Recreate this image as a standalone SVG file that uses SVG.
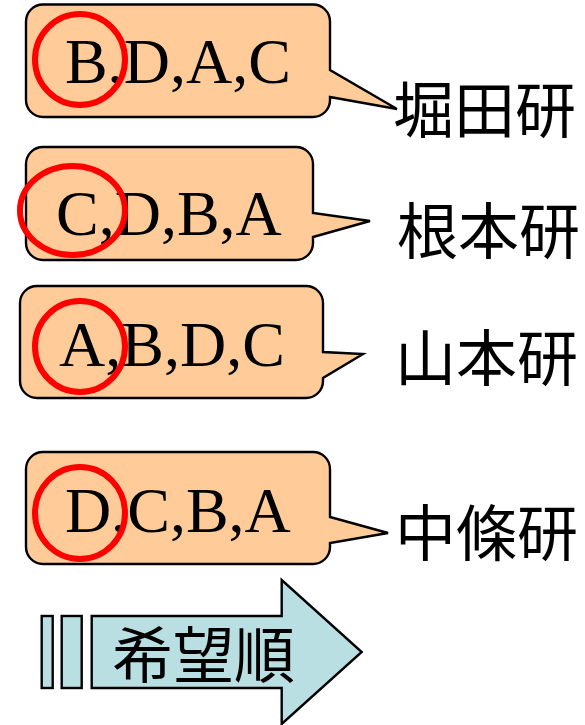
<svg xmlns="http://www.w3.org/2000/svg" width="585" height="725" viewBox="0 0 585 725">
<style>
.box{fill:#FFCC99;stroke:#000;stroke-width:2.4;stroke-linejoin:miter}
.ring{fill:none;stroke:#FF0000;stroke-width:6}
.lt{font-family:"Liberation Serif","Times New Roman",serif;font-size:64px;fill:#000}
.jp{font-family:"Noto Sans CJK JP","Noto Sans CJK SC",sans-serif;font-size:61px;fill:#000}
.arr{fill:#B9DFE2;stroke:#000;stroke-width:2.4}
</style>
<rect width="585" height="725" fill="#fff"/>
<g id="callout-hotta">
<path class="box" d="M43 4.5H313A17 17 0 0 1 330 21.5V70L397 109L330 97V100A17 17 0 0 1 313 117H43A17 17 0 0 1 26 100V21.5A17 17 0 0 1 43 4.5Z"/>
<text class="lt" x="65" y="83">B,D,A,C</text>
<ellipse class="ring" cx="80" cy="59.5" rx="45" ry="45.5"/>
<text class="jp" x="393" y="133">堀田研</text>
</g>
<g id="callout-nemoto">
<path class="box" d="M43 147H296A17 17 0 0 1 313 164V213L370 221L313 237V243A17 17 0 0 1 296 260H43A17 17 0 0 1 26 243V164A17 17 0 0 1 43 147Z"/>
<text class="lt" x="56" y="235">C,D,B,A</text>
<ellipse class="ring" cx="72.5" cy="210.5" rx="52.5" ry="44.5"/>
<text class="jp" x="397" y="254">根本研</text>
</g>
<g id="callout-yamamoto">
<path class="box" d="M37 286H306A17 17 0 0 1 323 303V352L363 354L323 378V381A17 17 0 0 1 306 398H37A17 17 0 0 1 20 381V303A17 17 0 0 1 37 286Z"/>
<text class="lt" x="59" y="366">A,B,D,C</text>
<ellipse class="ring" cx="80" cy="346.5" rx="45" ry="45.5"/>
<text class="jp" x="395" y="381">山本研</text>
</g>
<g id="callout-nakajo">
<path class="box" d="M43 452H313A17 17 0 0 1 330 469V517L388 533L330 543V547A17 17 0 0 1 313 564H43A17 17 0 0 1 26 547V469A17 17 0 0 1 43 452Z"/>
<text class="lt" x="65" y="532">D,C,B,A</text>
<ellipse class="ring" cx="80" cy="513" rx="45" ry="46"/>
<text class="jp" x="395" y="556">中條研</text>
</g>
<g id="arrow-preference">
<rect class="arr" x="41.7" y="616" width="11" height="72"/>
<rect class="arr" x="61.7" y="616" width="20" height="72"/>
<path class="arr" d="M91.7 616H281.7V580L361.7 652L281.7 724V688H91.7Z"/>
<text class="jp" x="112" y="678">希望順</text>
</g>
</svg>
